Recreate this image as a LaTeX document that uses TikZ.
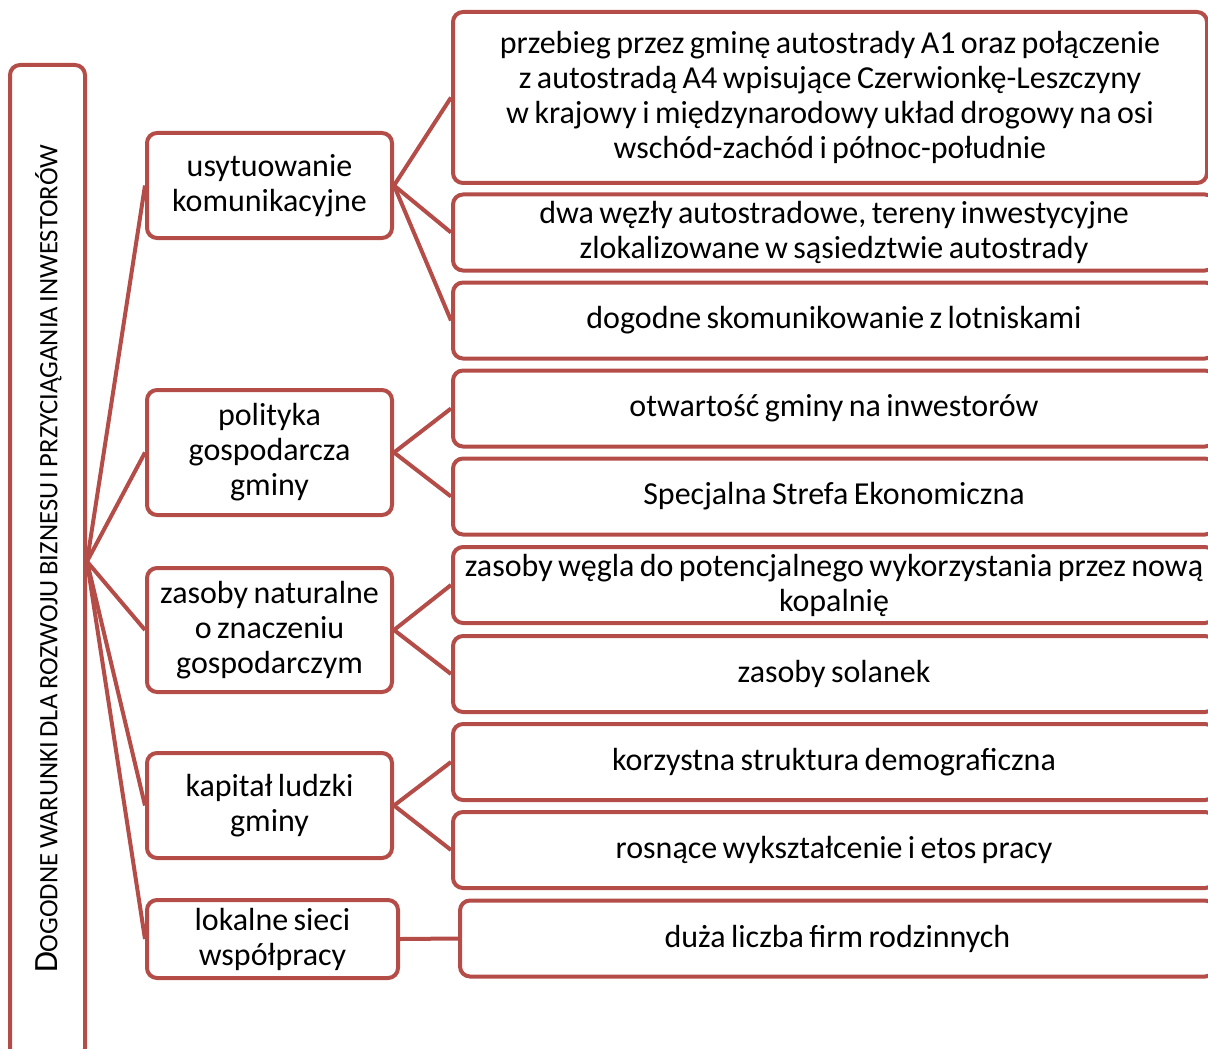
\documentclass[tikz,border=0pt]{standalone}
\usepackage{fontspec}
\setmainfont[WordSpace=0.75]{Carlito}
\usepackage{tikz}
\definecolor{ramka}{RGB}{180,76,72}
\tikzset{
    pudlo/.style={draw=ramka, line width=2pt, rounded corners=5pt, inner sep=0pt, align=center, text=black,
        font=\fontsize{16}{17.5}\selectfont},
    srodek/.style={pudlo, minimum width=122.5pt},
    prawy/.style={pudlo, minimum width=381pt, minimum height=38pt},
    lacznik/.style={draw=ramka, line width=2pt}
}
\begin{document}
\begin{tikzpicture}[x=0.5pt, y=-0.5pt]
\useasboundingbox (0,0) rectangle (1208,1048);
\clip (0,0) rectangle (1208,1048);
% lewa kolumna
\node[pudlo, minimum width=37.5pt, minimum height=496.5pt] (lewy) at (47.5,561.5) {};
\node[rotate=90, inner sep=0pt] (tytul) at (48.5,559)
    {{\fontsize{17}{19}\selectfont D}{\fontsize{13.3}{15}\selectfont OGODNE WARUNKI DLA ROZWOJU BIZNESU I PRZYCIĄGANIA INWESTORÓW}};
% grupy
\node[srodek, minimum height=52.5pt] (m1) at (269.5,185.5) {usytuowanie\\komunikacyjne};
\node[srodek, minimum height=62.5pt] (m2) at (269.5,452.5) {polityka\\gospodarcza\\gminy};
\node[srodek, minimum height=62pt] (m3) at (269.5,630) {zasoby naturalne\\o znaczeniu\\gospodarczym};
\node[srodek, minimum height=52.5pt] (m4) at (269.5,805.5) {kapitał ludzki\\gminy};
\node[srodek, minimum width=125.5pt, minimum height=39pt] (m5) at (272.5,939) {lokalne sieci\\współpracy};
% cechy
\node[prawy, minimum width=377pt, minimum height=85.5pt] (r1) at (830,97.5)
    {przebieg przez gminę autostrady A1 oraz połączenie\\z autostradą A4 wpisujące Czerwionkę-Leszczyny\\w krajowy i międzynarodowy układ drogowy na osi\\wschód-zachód i północ-południe};
\foreach \n/\y/\txt in {
    r2/232.5/{dwa węzły autostradowe, tereny inwestycyjne\\zlokalizowane w sąsiedztwie autostrady},
    r3/320.5/{dogodne skomunikowanie z lotniskami},
    r4/408.5/{otwartość gminy na inwestorów},
    r5/496.5/{Specjalna Strefa Ekonomiczna},
    r6/585/{zasoby węgla do potencjalnego wykorzystania przez nową\\kopalnię},
    r7/674/{zasoby solanek},
    r8/762/{korzystna struktura demograficzna},
    r9/850/{rosnące wykształcenie i etos pracy}}{
    \node[prawy] (\n) at (834,\y) {\txt};
}
\node[prawy, minimum width=377.5pt] (r10) at (837.5,938.5) {duża liczba firm rodzinnych};
% polaczenia
\foreach \m in {m1,m2,m3,m4,m5}
    \draw[lacznik] (lewy.east) -- (\m.west);
\foreach \m/\r in {m1/r1, m1/r2, m1/r3, m2/r4, m2/r5, m3/r6, m3/r7, m4/r8, m4/r9, m5/r10}
    \draw[lacznik] (\m.east) -- (\r.west);
\end{tikzpicture}
\end{document}
